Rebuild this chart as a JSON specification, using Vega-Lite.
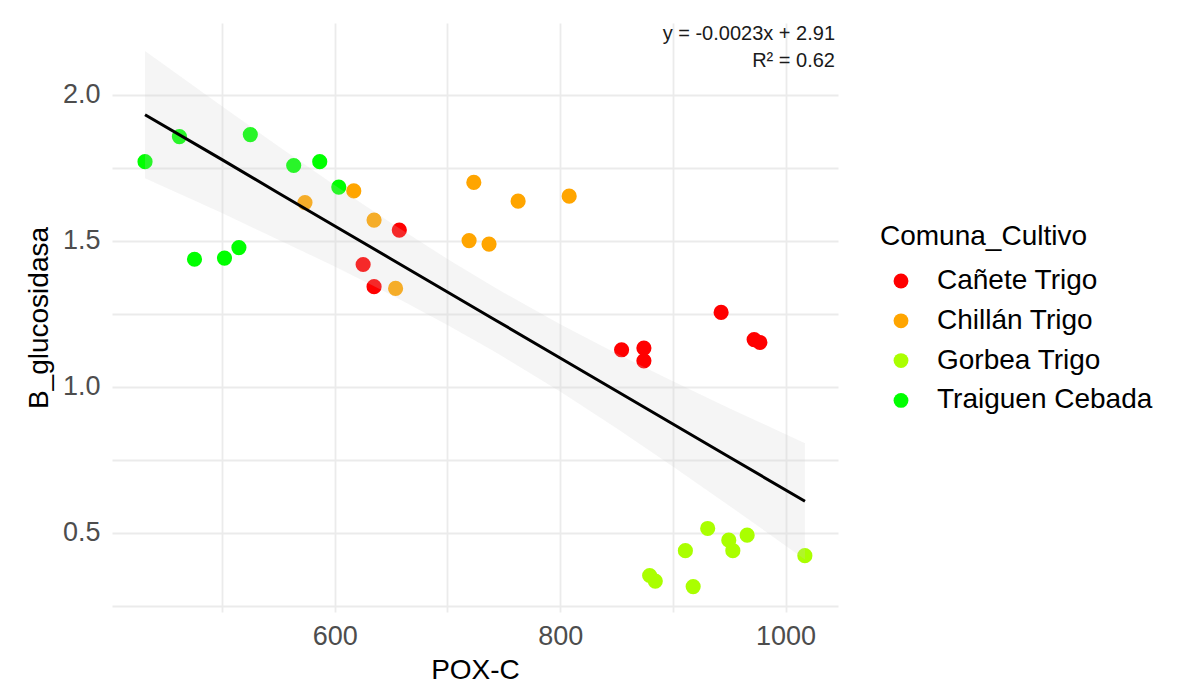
{
  "$schema": "https://vega.github.io/schema/vega-lite/v6.json",
  "width": 726,
  "height": 589,
  "autosize": {"type": "none"},
  "padding": {"left": 112, "top": 23, "right": 346, "bottom": 81},
  "background": "white",
  "config": {
    "view": {"stroke": null},
    "font": "Liberation Sans",
    "axis": {
      "domain": false,
      "ticks": false,
      "grid": true,
      "gridColor": "#EBEBEB",
      "gridWidth": 1.8,
      "labelFont": "Liberation Sans",
      "labelFontSize": 27,
      "labelColor": "#4D4D4D",
      "titleFont": "Liberation Sans",
      "titleFontSize": 28,
      "titleColor": "#000000",
      "titleFontWeight": "normal"
    }
  },
  "title": {
    "text": "y = -0.0023x + 2.91",
    "subtitle": "R² = 0.62",
    "anchor": "end",
    "frame": "group",
    "orient": "top",
    "offset": -48,
    "font": "Liberation Sans",
    "subtitleFont": "Liberation Sans",
    "fontSize": 20,
    "subtitleFontSize": 20,
    "fontWeight": "normal",
    "color": "#1a1a1a",
    "subtitleColor": "#1a1a1a",
    "subtitlePadding": 7,
    "dx": -3
  },
  "datasets": {
    "pts": [
      {"Comuna_Cultivo": "Traiguen Cebada", "POX_C": 431.7, "B_glucosidasa": 1.770},
      {"Comuna_Cultivo": "Traiguen Cebada", "POX_C": 462.2, "B_glucosidasa": 1.856},
      {"Comuna_Cultivo": "Traiguen Cebada", "POX_C": 525.1, "B_glucosidasa": 1.863},
      {"Comuna_Cultivo": "Traiguen Cebada", "POX_C": 563.6, "B_glucosidasa": 1.757},
      {"Comuna_Cultivo": "Traiguen Cebada", "POX_C": 586.7, "B_glucosidasa": 1.770},
      {"Comuna_Cultivo": "Traiguen Cebada", "POX_C": 603.6, "B_glucosidasa": 1.683},
      {"Comuna_Cultivo": "Traiguen Cebada", "POX_C": 475.6, "B_glucosidasa": 1.436},
      {"Comuna_Cultivo": "Traiguen Cebada", "POX_C": 502.2, "B_glucosidasa": 1.440},
      {"Comuna_Cultivo": "Traiguen Cebada", "POX_C": 515.0, "B_glucosidasa": 1.476},
      {"Comuna_Cultivo": "Chillán Trigo", "POX_C": 573.6, "B_glucosidasa": 1.630},
      {"Comuna_Cultivo": "Chillán Trigo", "POX_C": 616.9, "B_glucosidasa": 1.670},
      {"Comuna_Cultivo": "Chillán Trigo", "POX_C": 634.9, "B_glucosidasa": 1.570},
      {"Comuna_Cultivo": "Chillán Trigo", "POX_C": 654.0, "B_glucosidasa": 1.336},
      {"Comuna_Cultivo": "Chillán Trigo", "POX_C": 719.2, "B_glucosidasa": 1.500},
      {"Comuna_Cultivo": "Chillán Trigo", "POX_C": 723.4, "B_glucosidasa": 1.699},
      {"Comuna_Cultivo": "Chillán Trigo", "POX_C": 736.9, "B_glucosidasa": 1.488},
      {"Comuna_Cultivo": "Chillán Trigo", "POX_C": 762.7, "B_glucosidasa": 1.635},
      {"Comuna_Cultivo": "Chillán Trigo", "POX_C": 808.0, "B_glucosidasa": 1.652},
      {"Comuna_Cultivo": "Cañete Trigo", "POX_C": 657.3, "B_glucosidasa": 1.536},
      {"Comuna_Cultivo": "Cañete Trigo", "POX_C": 625.2, "B_glucosidasa": 1.418},
      {"Comuna_Cultivo": "Cañete Trigo", "POX_C": 634.9, "B_glucosidasa": 1.342},
      {"Comuna_Cultivo": "Cañete Trigo", "POX_C": 942.8, "B_glucosidasa": 1.254},
      {"Comuna_Cultivo": "Cañete Trigo", "POX_C": 854.5, "B_glucosidasa": 1.126},
      {"Comuna_Cultivo": "Cañete Trigo", "POX_C": 874.3, "B_glucosidasa": 1.132},
      {"Comuna_Cultivo": "Cañete Trigo", "POX_C": 874.3, "B_glucosidasa": 1.088},
      {"Comuna_Cultivo": "Cañete Trigo", "POX_C": 972.1, "B_glucosidasa": 1.161},
      {"Comuna_Cultivo": "Cañete Trigo", "POX_C": 977.2, "B_glucosidasa": 1.151},
      {"Comuna_Cultivo": "Gorbea Trigo", "POX_C": 930.9, "B_glucosidasa": 0.514},
      {"Comuna_Cultivo": "Gorbea Trigo", "POX_C": 949.6, "B_glucosidasa": 0.474},
      {"Comuna_Cultivo": "Gorbea Trigo", "POX_C": 965.9, "B_glucosidasa": 0.491},
      {"Comuna_Cultivo": "Gorbea Trigo", "POX_C": 911.1, "B_glucosidasa": 0.438},
      {"Comuna_Cultivo": "Gorbea Trigo", "POX_C": 953.2, "B_glucosidasa": 0.438},
      {"Comuna_Cultivo": "Gorbea Trigo", "POX_C": 1017.1, "B_glucosidasa": 0.421},
      {"Comuna_Cultivo": "Gorbea Trigo", "POX_C": 879.4, "B_glucosidasa": 0.353},
      {"Comuna_Cultivo": "Gorbea Trigo", "POX_C": 884.4, "B_glucosidasa": 0.334},
      {"Comuna_Cultivo": "Gorbea Trigo", "POX_C": 918.0, "B_glucosidasa": 0.315}
    ],
    "band": [
      {"POX_C": 431.7, "fit": 1.931, "lower": 1.713, "upper": 2.149},
      {"POX_C": 500, "fit": 1.777, "lower": 1.594, "upper": 1.960},
      {"POX_C": 550, "fit": 1.663, "lower": 1.503, "upper": 1.823},
      {"POX_C": 600, "fit": 1.550, "lower": 1.411, "upper": 1.689},
      {"POX_C": 650, "fit": 1.437, "lower": 1.314, "upper": 1.560},
      {"POX_C": 700, "fit": 1.324, "lower": 1.211, "upper": 1.437},
      {"POX_C": 742, "fit": 1.229, "lower": 1.119, "upper": 1.339},
      {"POX_C": 800, "fit": 1.098, "lower": 0.983, "upper": 1.213},
      {"POX_C": 850, "fit": 0.985, "lower": 0.857, "upper": 1.113},
      {"POX_C": 900, "fit": 0.872, "lower": 0.726, "upper": 1.018},
      {"POX_C": 950, "fit": 0.759, "lower": 0.592, "upper": 0.926},
      {"POX_C": 1017.2, "fit": 0.607, "lower": 0.408, "upper": 0.806}
    ]
  },
  "layer": [
    {
      "data": {"name": "pts"},
      "mark": {"type": "circle", "size": 230, "opacity": 1},
      "encoding": {
        "x": {
          "field": "POX_C", "type": "quantitative", "title": "POX-C",
          "scale": {"domain": [402.4, 1046.5], "nice": false, "zero": false},
          "axis": {
            "values": [500, 600, 700, 800, 900, 1000],
            "format": "d",
            "labelExpr": "datum.value % 200 == 0 ? datum.label : ''",
            "labelPadding": 11,
            "titlePadding": 7,
            "labelFlush": false
          }
        },
        "y": {
          "field": "B_glucosidasa", "type": "quantitative", "title": "B_glucosidasa",
          "scale": {"domain": [0.228, 2.245], "nice": false, "zero": false},
          "axis": {
            "values": [0.25, 0.5, 0.75, 1.0, 1.25, 1.5, 1.75, 2.0],
            "format": ".1f",
            "labelExpr": "datum.value % 0.5 == 0 ? datum.label : ''",
            "labelPadding": 12,
            "titlePadding": 9
          }
        },
        "color": {
          "field": "Comuna_Cultivo", "type": "nominal",
          "scale": {
            "domain": ["Cañete Trigo", "Chillán Trigo", "Gorbea Trigo", "Traiguen Cebada"],
            "range": ["#FF0000", "#FFA500", "#AAFF00", "#00FF00"]
          },
          "legend": {
            "orient": "none",
            "legendX": 768,
            "legendY": 200,
            "title": "Comuna_Cultivo",
            "titleFont": "Liberation Sans",
            "titleFontSize": 28,
            "titleFontWeight": "normal",
            "titleColor": "#000000",
            "titleLimit": 400,
            "labelFont": "Liberation Sans",
            "labelFontSize": 28,
            "labelColor": "#000000",
            "labelLimit": 400,
            "symbolType": "circle",
            "symbolSize": 220,
            "symbolStrokeWidth": 0,
            "symbolOpacity": 1,
            "rowPadding": 11.8,
            "titlePadding": 16,
            "labelOffset": 22,
            "symbolOffset": 7,
            "padding": 0
          }
        }
      }
    },
    {
      "data": {"name": "band"},
      "mark": {"type": "area", "color": "#cccccc", "opacity": 0.2},
      "encoding": {
        "x": {"field": "POX_C", "type": "quantitative", "title": "POX-C"},
        "y": {"field": "lower", "type": "quantitative", "title": "B_glucosidasa"},
        "y2": {"field": "upper"}
      }
    },
    {
      "data": {"name": "band"},
      "mark": {"type": "line", "color": "#000000", "strokeWidth": 3},
      "encoding": {
        "x": {"field": "POX_C", "type": "quantitative", "title": "POX-C"},
        "y": {"field": "fit", "type": "quantitative", "title": "B_glucosidasa"}
      }
    }
  ]
}
